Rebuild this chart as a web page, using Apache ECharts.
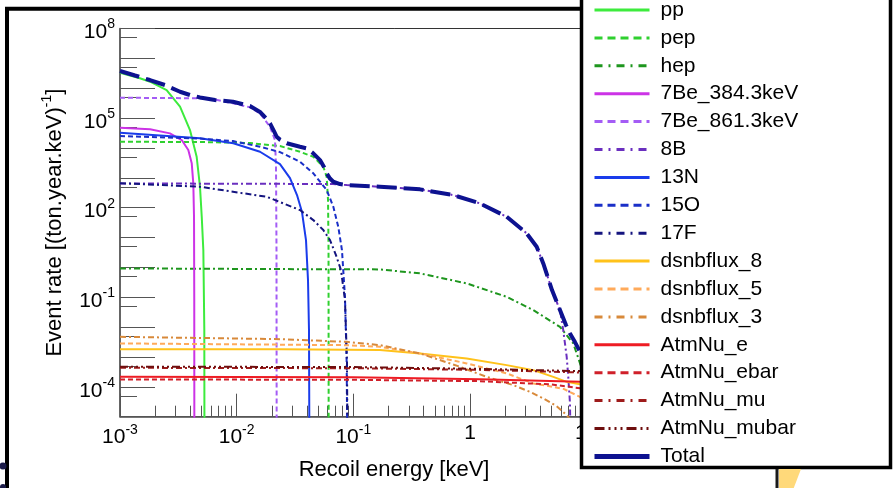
<!DOCTYPE html>
<html>
<head>
<meta charset="utf-8">
<script src="https://cdn.jsdelivr.net/npm/echarts@6/dist/echarts.min.js"></script>
<style>
html,body{margin:0;padding:0;background:#fff;}
#chart{width:894px;height:488px;}
</style>
</head>
<body>
<div id="chart"></div>
<script>
// Nuclear-recoil event-rate spectra per neutrino source.
// Each point: [recoil energy in keV, events per (ton . year . keV)]
const pp = [[0.001,3.31e6],[1.48e-3,2.15e6],[1.81e-3,1.65e6],[2.51e-3,8.7e5],[3.27e-3,2.4e5],[3.98e-3,3.98e4],[4.54e-3,5.07e3],[4.85e-3,501],[5.02e-3,49.6],[5.18e-3,3.8],[5.28e-3,8e-3],[5.3e-3,1e-7]];
const pep = [[0.001,1.61e4],[4.85e-3,1.58e4],[0.013,1.46e4],[0.0235,1.16e4],[0.0349,7.46e3],[0.0454,5.07e3],[0.0553,2.35e3],[0.0591,1.08e3],[0.0607,180],[0.0613,3.8],[0.0615,1e-7]];
const hep = [[0.001,0.926],[0.0235,0.877],[0.169,0.857],[0.373,0.63],[0.937,0.291],[2.063,0.1035],[3.487,0.0371],[5.906,0.0102],[7.68,2.84e-3],[8.765,6.2e-4],[10,1.1e-4],[11,1e-7]];
const be7Low = [[0.001,4.75e4],[1.81e-3,4.2e4],[2.68e-3,3.08e4],[3.38e-3,1.84e4],[3.85e-3,8.5e3],[4.12e-3,3.05e3],[4.25e-3,652],[4.31e-3,49.6],[4.33e-3,0.08],[4.34e-3,1e-7]];
const be7High = [[0.001,4.81e5],[4.85e-3,4.6e5],[6.52e-3,4.19e5],[9.3e-3,3.12e5],[0.013,2.3e5],[0.01585,1.44e5],[0.01931,5.13e4],[0.02131,1.84e4],[0.02174,2.35e3],[0.02195,3.8],[0.02204,1e-7]];
const b8 = [[0.001,645],[0.01,635],[0.0669,618],[0.0877,571],[0.169,501],[0.373,410],[0.719,264],[1.218,139],[2.063,49.6],[3.061,13.8],[3.73,4.9],[4.247,1.36],[5.045,0.174],[5.906,0.0371],[6.30,7.9e-3],[6.745,1.0e-3],[6.958,2.16e-4],[7.196,2.78e-5],[7.34,1e-7]];
const n13 = [[0.001,3.23e4],[4.85e-3,2.1e4],[9.36e-3,1.43e4],[0.01585,7.46e3],[0.02351,2.89e3],[0.02865,980],[0.0329,264],[0.03631,71.2],[0.03929,8.2],[0.04088,0.375],[0.04169,7.9e-3],[0.0421,1e-7]];
const o15 = [[0.001,2.5e4],[4.85e-3,2.06e4],[9.3e-3,1.7e4],[0.01585,1.1e4],[0.02351,7.29e3],[0.0349,3.45e3],[0.0454,1.41e3],[0.0591,389],[0.0674,107],[0.0743,22.9],[0.0799,3.8],[0.0848,0.104],[0.0877,6.2e-4],[0.0891,1e-7]];
const f17 = [[0.001,660],[4.85e-3,501],[9.3e-3,341],[0.01809,232],[0.0251,139],[0.0349,83.1],[0.0454,38.4],[0.0553,17.8],[0.0631,8.2],[0.071,2.58],[0.0784,0.81],[0.0848,0.08],[0.0882,7.8e-4],[0.0895,1e-7]];
const dsnb8 = [[0.001,1.83e-3],[0.0235,1.83e-3],[0.169,1.7e-3],[0.373,1.315e-3],[0.937,8.94e-4],[2.063,5.33e-4],[3.487,3.62e-4],[5.18,2.16e-4],[6.745,1.47e-4],[8.765,1.23e-4],[10,1.05e-4]];
const dsnb5 = [[0.001,2.84e-3],[0.0877,2.49e-3],[0.169,2.19e-3],[0.373,1.315e-3],[0.937,6.08e-4],[2.063,2.81e-4],[3.487,1.3e-4],[4.5,1.1e-4],[6.4,8.4e-5],[8.765,4.6e-5],[10,3.3e-5]];
const dsnb3 = [[0.001,4.73e-3],[0.0235,3.96e-3],[0.0877,3.21e-3],[0.169,2.49e-3],[0.373,1.315e-3],[0.821,4.68e-4],[1.39,2.16e-4],[2.35,1.14e-4],[3.27,6.8e-5],[4.25,4.08e-5],[5.53,2.25e-5],[6.745,1.13e-5],[7.94,5.2e-6]];
const atmE = [[0.001,2.16e-4],[0.1,2.1e-4],[1.218,1.81e-4],[8.765,1.47e-4],[10,1.44e-4]];
const atmEbar = [[0.001,1.77e-4],[0.1,1.72e-4],[1.218,1.55e-4],[5,1.2e-4],[8.765,9e-5],[10,8e-5]];
const atmMu = [[0.001,4.34e-4],[0.1,4.2e-4],[1.218,3.7e-4],[8.765,3.03e-4],[10,2.95e-4]];
const atmMubar = [[0.001,4.75e-4],[0.1,4.6e-4],[1.218,4.0e-4],[8.765,3.36e-4],[10,3.25e-4]];
const total = [[0.001,3.77e6],[1.345e-3,2.66e6],[1.807e-3,1.88e6],[2.43e-3,1.28e6],[3.27e-3,7.63e5],[3.98e-3,5.92e5],[4.85e-3,4.9e5],[6.52e-3,4.02e5],[9.3e-3,3.53e5],[0.013,2.53e5],[0.01585,1.6e5],[0.01784,1.0e5],[0.01931,6.67e4],[0.02089,3.68e4],[0.02204,2.37e4],[0.02351,1.9e4],[0.02685,1.43e4],[0.0349,1.1e4],[0.03984,9.7e3],[0.04512,6.75e3],[0.05179,3.93e3],[0.05605,2.29e3],[0.05909,1.41e3],[0.0631,944],[0.06735,738],[0.07686,618],[0.0877,572],[0.169,501],[0.373,410],[0.719,264],[1.218,139],[2.063,49.6],[3.061,13.8],[3.73,4.9],[4.247,1.36],[5.045,0.174],[5.906,0.0371],[6.65,0.0117],[7.196,6.15e-3],[7.94,3.15e-3],[8.765,1.49e-3],[10,6.7e-4]];

// Axis ranges (decades) and labelled decades
const xDecadeMin = -3, xDecadeMax = Math.log10(50);
const yDecadeMin = -5, yDecadeMax = 8;
const xLabelDecades = [-3, -2, -1, 0, 1];
const yLabelDecades = [8, 5, 2, -1, -4];

const FONT = '"Liberation Sans", Arial, Helvetica, sans-serif';

// line styles
const DASH = [5, 3], DASH_L = [8, 5];
const DDOT = [6, 3, 2, 3], DDOT_L = [8, 6, 2, 6];
const D3DOT = [8, 3, 2, 3, 2, 3, 2, 3], D3DOT_L = [10, 4, 2, 4, 2, 4, 2, 4];

const curves = [
  {name: 'pp', data: pp, color: '#3DEB3D', type: 'solid', ltype: 'solid'},
  {name: 'pep', data: pep, color: '#2FD02F', type: DASH, ltype: DASH_L},
  {name: 'hep', data: hep, color: '#1E961E', type: DDOT, ltype: DDOT_L},
  {name: '7Be_384.3keV', data: be7Low, color: '#CC33E6', type: 'solid', ltype: 'solid'},
  {name: '7Be_861.3keV', data: be7High, color: '#A45CF5', type: DASH, ltype: DASH_L},
  {name: '8B', data: b8, color: '#6A2FBF', type: DDOT, ltype: DDOT_L},
  {name: '13N', data: n13, color: '#1A3CEB', type: 'solid', ltype: 'solid'},
  {name: '15O', data: o15, color: '#1A2FC8', type: DASH, ltype: DASH_L},
  {name: '17F', data: f17, color: '#14147F', type: DDOT, ltype: DDOT_L},
  {name: 'dsnbflux_8', data: dsnb8, color: '#FFC21A', type: 'solid', ltype: 'solid'},
  {name: 'dsnbflux_5', data: dsnb5, color: '#FFAA5A', type: DASH, ltype: DASH_L},
  {name: 'dsnbflux_3', data: dsnb3, color: '#D8893A', type: DDOT, ltype: DDOT_L},
  {name: 'AtmNu_e', data: atmE, color: '#EE1C24', type: 'solid', ltype: 'solid'},
  {name: 'AtmNu_ebar', data: atmEbar, color: '#D0202A', type: DASH, ltype: DASH_L},
  {name: 'AtmNu_mu', data: atmMu, color: '#9E1B1B', type: DDOT, ltype: DDOT_L},
  {name: 'AtmNu_mubar', data: atmMubar, color: '#6E0E0E', type: D3DOT, ltype: D3DOT_L},
  {name: 'Total', data: total, color: '#0D1290', type: [20, 7], ltype: 'solid', width: 4, lwidth: 5}
];

const toLog = pts => pts.map(([e, r]) => [Math.log10(e), Math.log10(r)]);

function range(a, b) { const out = []; for (let i = a; i <= b; i++) out.push(i); return out; }
const xMajor = range(-3, 1);
const xMinor = [];
xMajor.forEach(d => { for (let k = 2; k <= 9; k++) { const v = d + Math.log10(k); if (v < xDecadeMax) xMinor.push(v); } });
const yMajor = range(yDecadeMin, yDecadeMax);
const yMinor = range(yDecadeMin, yDecadeMax - 1).map(d => d + Math.log10(5));

function powLabel(v) {
  const n = Math.round(v);
  if (n === 0) return '{b|1}';
  if (n === 1) return '{b|10}';
  return '{b|10}{s|' + n + '}';
}
const labelRich = {
  b: {fontSize: 21, fontFamily: FONT, color: '#000'},
  s: {fontSize: 14, fontFamily: FONT, color: '#000', padding: [0, 0, 16, 0]}
};
const axisColor = '#555';

const series = curves.map(c => ({
  name: c.name, type: 'line', data: toLog(c.data),
  xAxisIndex: 0, yAxisIndex: 0,
  symbol: 'none', showSymbol: false, clip: true, animation: false,
  lineStyle: {color: c.color, width: c.width || 2, type: c.type},
  itemStyle: {color: c.color}
}));

// legend keys: line only, the marker dot is made invisible
const legendData = curves.map(c => ({
  name: c.name,
  lineStyle: {type: c.ltype, width: c.lwidth || 3, color: c.color},
  itemStyle: {opacity: 0, color: 'rgba(0,0,0,0)', borderWidth: 0}
}));

const chart = echarts.init(document.getElementById('chart'), null, {renderer: 'canvas'});
chart.setOption({
  backgroundColor: '#fff',
  animation: false,
  grid: {left: 120, top: 28.5, right: 894 - 668.2, bottom: 488 - 416.7, show: true, borderColor: '#333', borderWidth: 1, backgroundColor: 'transparent'},
  xAxis: [
    {
      type: 'value', min: xDecadeMin, max: xDecadeMax, position: 'bottom',
      name: 'Recoil energy [keV]', nameLocation: 'middle', nameGap: 42,
      nameTextStyle: {fontSize: 22, fontFamily: FONT, color: '#000'},
      axisLine: {onZero: false, lineStyle: {color: axisColor, width: 1.5}},
      axisTick: {inside: true, length: 23, customValues: xMajor, lineStyle: {color: axisColor, width: 1}},
      axisLabel: {customValues: xLabelDecades, margin: 6, formatter: powLabel, rich: labelRich},
      splitLine: {show: false}
    },
    {
      type: 'value', min: xDecadeMin, max: xDecadeMax, position: 'bottom',
      axisLine: {show: false, onZero: false},
      axisTick: {inside: true, length: 11, customValues: xMinor, lineStyle: {color: axisColor, width: 1}},
      axisLabel: {show: false},
      splitLine: {show: false}
    }
  ],
  yAxis: [
    {
      type: 'value', min: yDecadeMin, max: yDecadeMax, position: 'left',
      name: '{a|Event rate [(ton.year.keV)}{s|-1}{a|]}', nameLocation: 'middle', nameGap: 50, nameRotate: 90,
      nameTextStyle: {rich: {
        a: {fontSize: 22, fontFamily: FONT, color: '#000'},
        s: {fontSize: 14, fontFamily: FONT, color: '#000', padding: [0, 0, 16, 0]}
      }},
      axisLine: {onZero: false, lineStyle: {color: axisColor, width: 1.5}},
      axisTick: {inside: true, length: 35, customValues: yMajor, lineStyle: {color: axisColor, width: 1}},
      axisLabel: {customValues: yLabelDecades, margin: 5, padding: [8, 0, 0, 0], formatter: powLabel, rich: labelRich},
      splitLine: {show: false}
    },
    {
      type: 'value', min: yDecadeMin, max: yDecadeMax, position: 'left',
      axisLine: {show: false, onZero: false},
      axisTick: {inside: true, length: 17, customValues: yMinor, lineStyle: {color: axisColor, width: 1}},
      axisLabel: {show: false},
      splitLine: {show: false}
    }
  ],
  legend: {
    orient: 'vertical', left: 592, top: -1, z: 20, padding: 0,
    itemWidth: 55, itemHeight: 14, itemGap: 5.9,
    selectedMode: false,
    textStyle: {fontSize: 21, fontFamily: FONT, color: '#000', lineHeight: 22, padding: [0, 0, 0, 6]},
    data: legendData
  },
  graphic: [
    {type: 'rect', z: 10, shape: {x: 581.5, y: -10, width: 309, height: 477.5},
      style: {fill: '#fff', stroke: '#000', lineWidth: 3.5}},
    {type: 'polyline', z: 10, shape: {points: [[7, 495], [7, 8.7], [582, 8.7]]},
      style: {fill: null, stroke: '#000', lineWidth: 4}},
    {type: 'circle', z: 10, shape: {cx: 3, cy: 466, r: 3.5}, style: {fill: '#1c1c4a'}},
    {type: 'circle', z: 10, shape: {cx: 3, cy: 487, r: 3}, style: {fill: '#1c1c4a'}},
    {type: 'polygon', z: 10, shape: {points: [[779, 469], [801, 469], [793, 490], [779, 490]]},
      style: {fill: '#FFD97A'}},
    {type: 'line', z: 10, shape: {x1: 777, y1: 469, x2: 777, y2: 490},
      style: {stroke: '#1a1a1a', lineWidth: 3}}
  ],
  series: series
});
</script>
</body>
</html>
